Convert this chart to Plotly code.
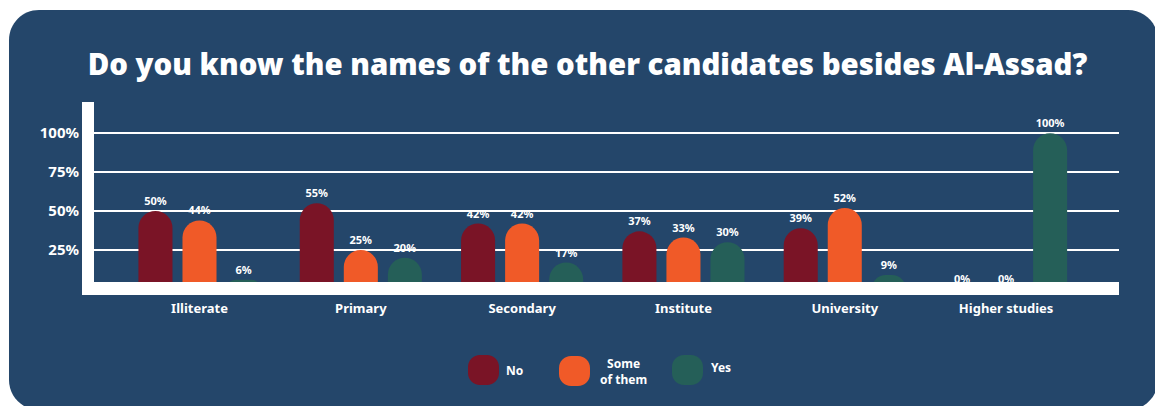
import plotly.graph_objects as go

# Survey answers by education level (percent of respondents)
levels = ["Illiterate", "Primary", "Secondary", "Institute", "University", "Higher studies"]
no_pct = [50, 55, 42, 37, 39, 0]
some_pct = [44, 25, 42, 33, 52, 0]
yes_pct = [6, 20, 17, 30, 9, 100]

series_names = ["No", "Some<br>of them", "Yes"]
series_values = [no_pct, some_pct, yes_pct]
series_colors = ["#7a1426", "#f05a28", "#255f58"]

y_ticks = [25, 50, 75, 100]
y_tick_text = ["25%", "50%", "75%", "100%"]

BG = "#24466a"
FONT = "Noto Sans"

# Canvas geometry (pixels)
W, H = 1155, 406
L, R, T, B = 94, 36, 102, 111
PW = W - L - R
PH = H - T - B
BOT = H - B


def fx(px):
    return (px - L) / PW


def fy(py):
    return (BOT - py) / PH


def rounded_rect(x0, y0, x1, y1, r):
    """Rounded rectangle given in page pixels, returned as a paper-space SVG path."""
    k = 0.5523 * r
    pts = [
        ("M", [(x0 + r, y0)]),
        ("L", [(x1 - r, y0)]),
        ("C", [(x1 - r + k, y0), (x1, y0 + r - k), (x1, y0 + r)]),
        ("L", [(x1, y1 - r)]),
        ("C", [(x1, y1 - r + k), (x1 - r + k, y1), (x1 - r, y1)]),
        ("L", [(x0 + r, y1)]),
        ("C", [(x0 + r - k, y1), (x0, y1 - r + k), (x0, y1 - r)]),
        ("L", [(x0, y0 + r)]),
        ("C", [(x0, y0 + r - k), (x0 + r - k, y0), (x0 + r, y0)]),
    ]
    out = []
    for cmd, coords in pts:
        out.append(cmd + " ".join(f"{fx(a):.5f},{fy(b):.5f}" for a, b in coords))
    return " ".join(out) + " Z"


fig = go.Figure()
for name, vals, col in zip(series_names, series_values, series_colors):
    fig.add_trace(go.Bar(
        x=levels, y=vals, name=name,
        marker=dict(color=col, line=dict(width=0), cornerradius="50%"),
        text=[f"{v}%" for v in vals], texttemplate="%{text}", textposition="outside",
        textfont=dict(family=FONT, size=11, color="white", weight="bold"),
        cliponaxis=False, showlegend=False,
    ))

shapes = [
    # card background
    dict(type="path", xref="paper", yref="paper", layer="below",
         path=rounded_rect(9, 10, 1158, 410, 30),
         fillcolor=BG, line=dict(width=0)),
    # vertical axis bar
    dict(type="rect", xref="paper", yref="paper", layer="above",
         x0=fx(82), x1=fx(94), y0=fy(295), y1=fy(102),
         fillcolor="white", line=dict(width=0)),
    # baseline bar
    dict(type="rect", xref="paper", yref="paper", layer="above",
         x0=fx(82), x1=fx(1119), y0=fy(295), y1=fy(282),
         fillcolor="white", line=dict(width=0)),
]

# Legend: rounded swatches with labels
legend_items = [
    (468, 355, "No", 504, 370, "left"),
    (559, 356, "Some<br>of them", 623, 371, "center"),
    (672, 355, "Yes", 709, 367, "left"),
]
annotations = []
for (sx, sy, label, tx, ty, align), col in zip(legend_items, series_colors):
    shapes.append(dict(type="path", xref="paper", yref="paper", layer="above",
                       path=rounded_rect(sx, sy, sx + 31, sy + 30, 12),
                       fillcolor=col, line=dict(width=0)))
    annotations.append(dict(
        text=label, xref="paper", yref="paper", x=fx(tx), y=fy(ty),
        xanchor="left" if align == "left" else "center", yanchor="middle",
        align=align, showarrow=False,
        font=dict(family=FONT, size=12, color="white", weight="bold"),
    ))

fig.update_layout(
    width=W, height=H,
    margin=dict(l=L, r=R, t=T, b=B, pad=0),
    paper_bgcolor="white", plot_bgcolor="rgba(0,0,0,0)",
    barmode="group", bargap=0.181, bargroupgap=0.227,
    title=dict(text="Do you know the names of the other candidates besides Al-Assad?",
               x=587.5 / W, xanchor="center", xref="container",
               y=1 - 65 / H, yanchor="middle", yref="container",
               font=dict(family=FONT, size=29.4, color="white", weight=900)),
    xaxis=dict(range=[-0.654, 5.70], showgrid=False, zeroline=False, showline=False,
               ticks="", ticklabelstandoff=4,
               tickfont=dict(family=FONT, size=13, color="white", weight="bold")),
    yaxis=dict(range=[-3.85, 120], tickvals=y_ticks, ticktext=y_tick_text,
               showgrid=True, gridcolor="white", gridwidth=2,
               zeroline=False, showline=False, ticks="", ticklabelstandoff=14,
               tickfont=dict(family=FONT, size=15, color="white", weight="bold")),
    shapes=shapes, annotations=annotations,
    font=dict(family=FONT, color="white"),
)

fig.write_html("out.html")
